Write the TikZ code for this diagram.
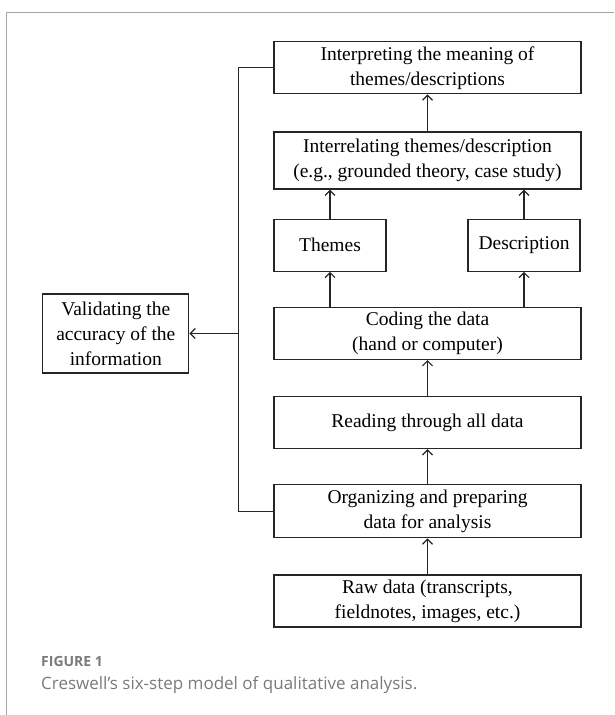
\documentclass[tikz,border=0pt]{standalone}
\usepackage{fontspec}
\setmainfont{Liberation Serif}
\newfontfamily\capfont{Open Sans}
\usetikzlibrary{arrows.meta,positioning}

\begin{document}
\begin{tikzpicture}[x=1pt, y=1pt, node distance=36pt, font=\fontsize{19.5}{25}\selectfont,
  box/.style={draw=black!85, line width=1.2pt, align=center, inner sep=2pt, minimum width=307pt, minimum height=52pt},
  small/.style={box, minimum width=112pt},
  arr/.style={-{Straight Barb[length=5pt,width=10pt]}, line width=1.2pt, draw=black!85},
  figtext/.style={anchor=base west, inner sep=0pt, text=black!52}]
\useasboundingbox (0,0) rectangle (614,-715);
\draw[black!35, line width=1pt] (6.7,-715) |- (614,-12);
\node[box] (raw) at (427.5,-601) {Raw data (transcripts,\\fieldnotes, images, etc.)};
\node[box, minimum height=53pt, above=of raw] (org) {Organizing and preparing\\data for analysis};
\node[box, above=35pt of org] (read) {Reading through all data};
\node[box, above=36pt of read] (code) {Coding the data\\(hand or computer)};
\node[small, above right=35pt and 0pt of code.north west] (themes) {Themes};
\node[small, above left=35pt and 1pt of code.north east] (descr) {Description};
\node[box, minimum height=57pt, above right=29pt and 0pt of themes.north west] (rel) {Interrelating themes/description\\(e.g., grounded theory, case study)};
\node[box, above=37pt of rel] (interp) {Interpreting the meaning of\\themes/descriptions};
\node[box, minimum width=146pt, minimum height=79pt, left=84pt of code] (valid) {Validating the\\accuracy of the\\information};
\coordinate[left=35pt of code.west] (bus);
\draw[arr] (raw) -- (org); \draw[arr] (org) -- (read); \draw[arr] (read) -- (code);
\draw[arr] (code.north -| themes) -- (themes); \draw[arr] (code.north -| descr) -- (descr);
\draw[arr] (themes) -- (themes |- rel.south); \draw[arr] (descr) -- (descr |- rel.south); \draw[arr] (rel) -- (interp);
\draw[line width=1.2pt, draw=black!85] (interp.west) -| (bus) |- (org.west);
\draw[arr] (bus) -- (valid.east);
\node[figtext, font=\capfont\bfseries\fontsize{14}{16}\selectfont] (fig) at (41,-666) {FIGURE 1};
\node[figtext, font=\capfont\fontsize{17}{20}\selectfont, below=23pt of fig.base west, anchor=base west] (caption) {Creswell’s six-step model of qualitative analysis.};
\end{tikzpicture}
\end{document}
